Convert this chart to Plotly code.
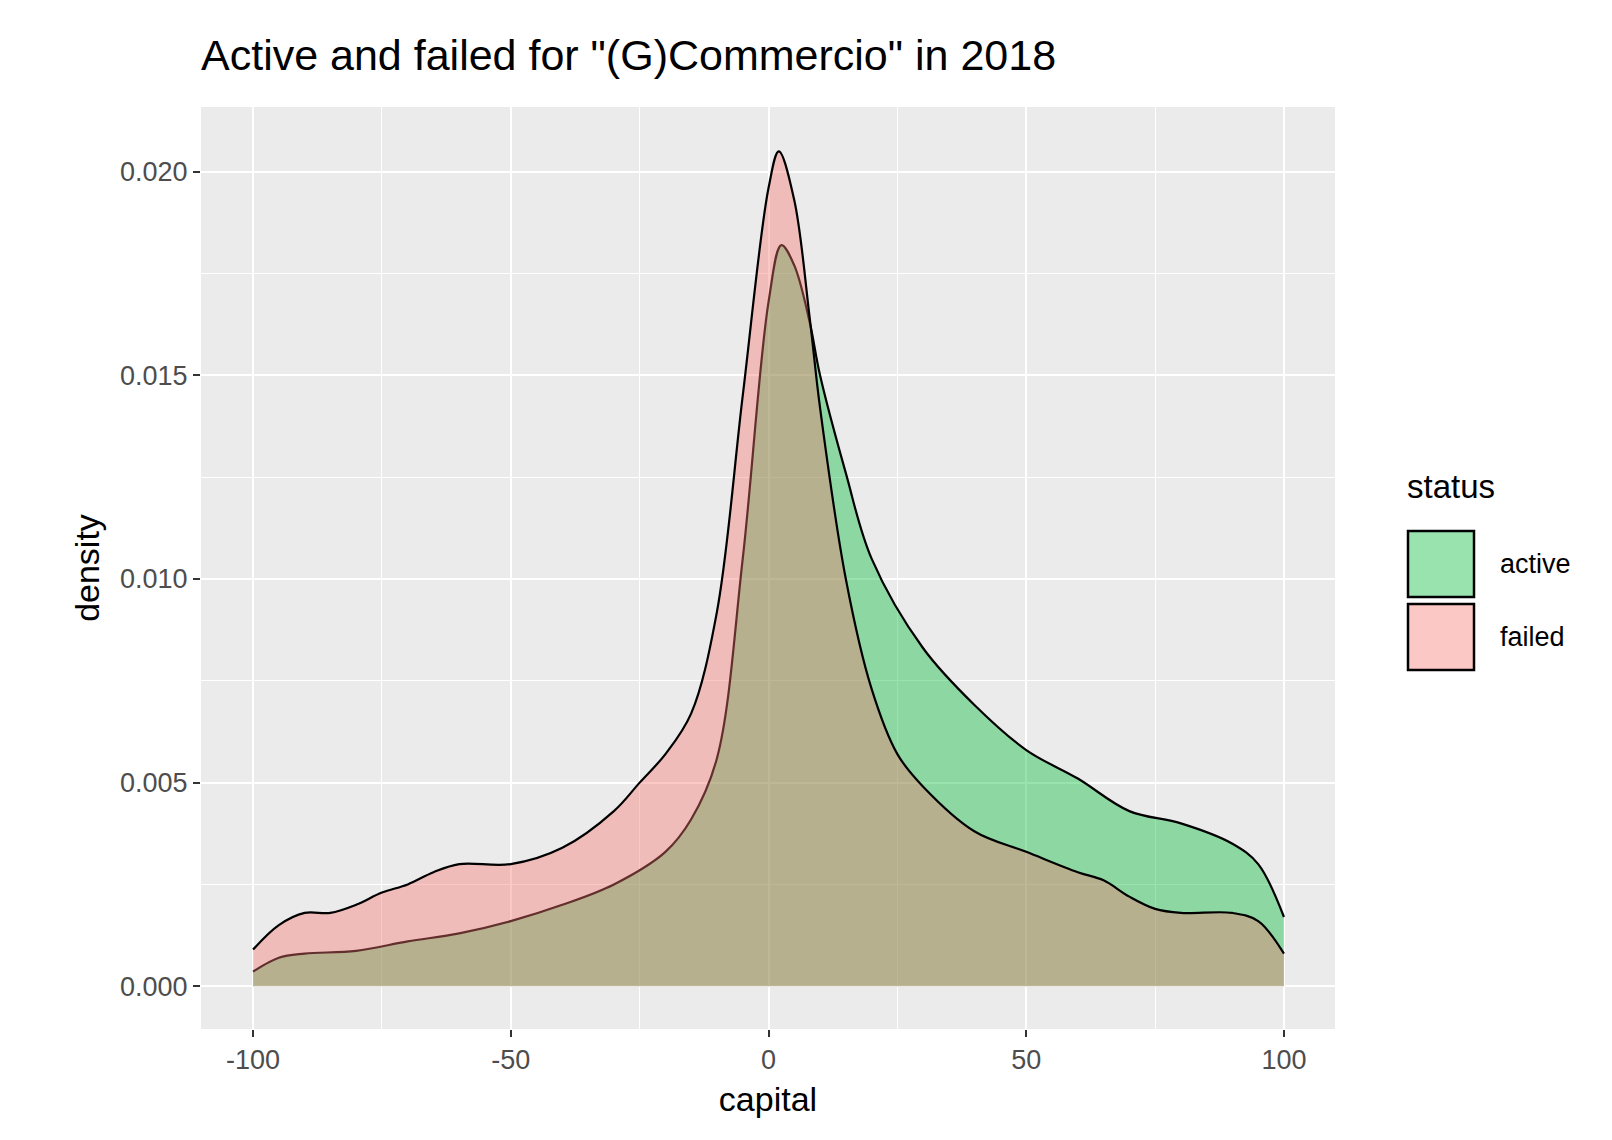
import plotly.graph_objects as go

# density estimates
active_x = [-100, -95, -90, -80, -70, -60, -50, -40, -30, -20, -15, -10, -5, 0, 2.5, 5, 8, 10, 15, 20, 30, 40, 50, 60, 70, 80, 90, 95, 100]
active_y = [0.00036, 0.0007, 0.0008, 0.00087, 0.0011, 0.0013, 0.0016, 0.002, 0.0025, 0.0033, 0.0041, 0.0056, 0.0105, 0.0168, 0.0182, 0.0177, 0.0163, 0.0150, 0.0126, 0.0105, 0.0083, 0.0069, 0.0058, 0.0051, 0.0043, 0.0040, 0.0035, 0.0030, 0.0017]

failed_x = [-100, -95, -90, -85, -80, -75, -70, -65, -60, -50, -40, -30, -25, -20, -15, -10, -5, 0, 2, 5, 8, 10, 15, 20, 25, 30, 40, 50, 60, 65, 70, 75, 80, 90, 95, 100]
failed_y = [0.0009, 0.0015, 0.0018, 0.0018, 0.0020, 0.0023, 0.0025, 0.0028, 0.0030, 0.0030, 0.0034, 0.0043, 0.0050, 0.0057, 0.0067, 0.0092, 0.0145, 0.0196, 0.0205, 0.0193, 0.0164, 0.0142, 0.0100, 0.0073, 0.0057, 0.0049, 0.0038, 0.0033, 0.0028, 0.0026, 0.0022, 0.0019, 0.0018, 0.0018, 0.0016, 0.0008]

statuses = ["active", "failed"]
fills = ["rgba(0,186,56,0.4)", "rgba(248,118,109,0.4)"]

W, H = 1612, 1140
L, R, T, B = 193, 285, 99, 119

def px(x):
    return (x - L) / (W - L - R)

def py(y):
    return (H - B - y) / (H - T - B)

fig = go.Figure()
for sx, sy, name, fc in [(active_x, active_y, statuses[0], fills[0]),
                         (failed_x, failed_y, statuses[1], fills[1])]:
    fig.add_trace(go.Scatter(x=sx, y=sy, name=name, mode="lines", showlegend=False,
                             line=dict(color="black", width=2.2, shape="spline"),
                             fill="tozeroy", fillcolor=fc))

# legend drawn by hand, ggplot style
fig.add_annotation(xref="paper", yref="paper", x=px(1397), y=py(478), text="status",
                   showarrow=False, xanchor="left", yanchor="middle", font=dict(size=33, color="black"))
for i, (name, fc) in enumerate(zip(statuses, fills)):
    y0 = 523 + i * 73
    fig.add_shape(type="rect", xref="paper", yref="paper", x0=px(1400), x1=px(1466),
                  y0=py(y0), y1=py(y0 + 66), fillcolor="white", line=dict(width=0))
    fig.add_shape(type="rect", xref="paper", yref="paper", x0=px(1400), x1=px(1466),
                  y0=py(y0), y1=py(y0 + 66), fillcolor=fc, line=dict(color="black", width=2.5))
    fig.add_annotation(xref="paper", yref="paper", x=px(1490), y=py(y0 + 33), text=name,
                       showarrow=False, xanchor="left", yanchor="middle", font=dict(size=27, color="black"))

fig.update_xaxes(range=[-110.1, 109.9], tickvals=[-100, -50, 0, 50, 100],
                 ticktext=["-100", "-50", "0", "50", "100"],
                 showgrid=True, gridcolor="white", gridwidth=2.2,
                 minor=dict(tickvals=[-75, -25, 25, 75], showgrid=True, gridcolor="white", gridwidth=1),
                 zeroline=False, ticks="outside", ticklen=7, tickcolor="#333", tickwidth=2,
                 tickfont=dict(size=27, color="#4d4d4d"),
                 title=dict(text="capital", font=dict(size=34, color="black"), standoff=12))
fig.update_yaxes(range=[-0.00105, 0.02159], tickvals=[0, 0.005, 0.01, 0.015, 0.02],
                 ticktext=["0.000", "0.005", "0.010", "0.015", "0.020"],
                 showgrid=True, gridcolor="white", gridwidth=2.2,
                 minor=dict(tickvals=[0.0025, 0.0075, 0.0125, 0.0175], showgrid=True, gridcolor="white", gridwidth=1),
                 zeroline=False, ticks="outside", ticklen=7, tickcolor="#333", tickwidth=2,
                 tickfont=dict(size=27, color="#4d4d4d"),
                 title=dict(text="density", font=dict(size=34, color="black"), standoff=10))

fig.update_layout(
    width=W, height=H,
    font=dict(family="Liberation Sans, Arial"),
    title=dict(text='Active and failed for "(G)Commercio" in 2018', x=px(193), xref="paper",
               xanchor="left", y=1 - 47 / H, yanchor="middle", font=dict(size=43, color="black")),
    plot_bgcolor="#EBEBEB", paper_bgcolor="white",
    margin=dict(l=L, r=R, t=T, b=B),
    showlegend=False,
)

fig.write_html("out.html")
